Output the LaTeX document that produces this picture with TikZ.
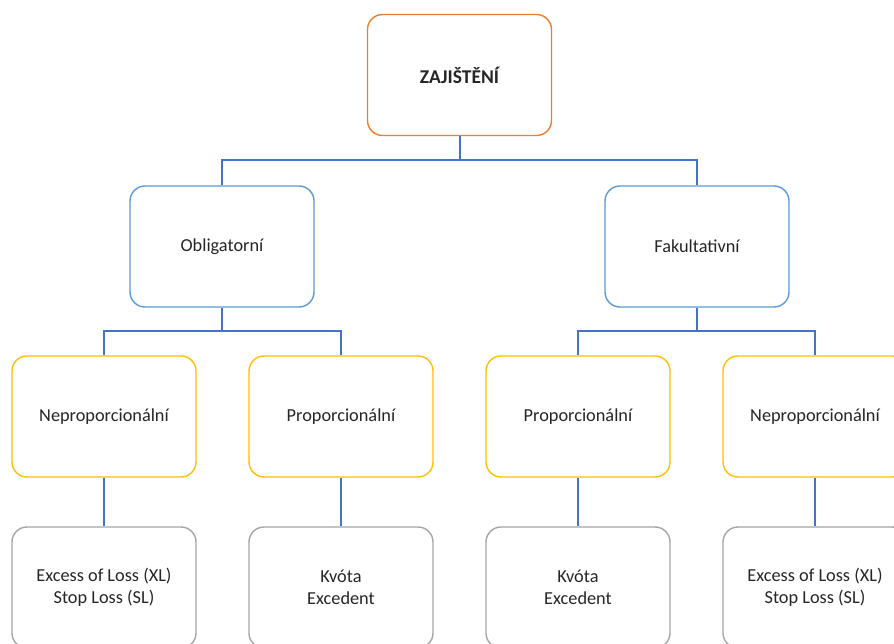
\documentclass[tikz,border=0pt]{standalone}
\usepackage{fontspec}
\setmainfont{Carlito}
\definecolor{cOrange}{HTML}{ED7D31}
\definecolor{cBlue}{HTML}{5B9BD5}
\definecolor{cGold}{HTML}{FFC000}
\definecolor{cGray}{HTML}{A5A5A5}
\definecolor{cLink}{HTML}{4472C4}
\begin{document}
\begin{tikzpicture}[x=1pt,y=-1pt,
  box/.style={draw,line width=1.4pt,rounded corners=15pt,minimum width=184pt,minimum height=121pt,
    inner sep=0pt,align=center,font=\fontsize{18.3}{22}\selectfont,text=black!85,fill=white},
  topbox/.style={box,draw=cOrange,font=\fontsize{19.5}{23}\selectfont\bfseries},
  midbox/.style={box,draw=cBlue},
  lowbox/.style={box,draw=cGold},
  leafbox/.style={box,draw=cGray},
  link/.style={draw=cLink,line width=1.4pt}]
\useasboundingbox (0,0) rectangle (894,644);
\clip (0,0) rectangle (894,644);
\fill[white] (0,0) rectangle (894,644);

% tree nodes
\node[topbox] (root) at (459.5,75) {ZAJIŠTĚNÍ};
\node[midbox] (obl) at (222,246.5) {Obligatorní};
\node[midbox] (fak) at (697,246.5) {Fakultativní};
\node[lowbox] (n1) at (104,416.5) {Neproporcionální};
\node[lowbox] (p1) at (341,416.5) {Proporcionální};
\node[lowbox] (p2) at (578,416.5) {Proporcionální};
\node[lowbox] (n2) at (815,416.5) {Neproporcionální};
\node[leafbox] (l1) at (104,587.5) {Excess of Loss (XL)\\Stop Loss (SL)};
\node[leafbox] (l2) at (341,587.5) {Kvóta\\Excedent};
\node[leafbox] (l3) at (578,587.5) {Kvóta\\Excedent};
\node[leafbox] (l4) at (815,587.5) {Excess of Loss (XL)\\Stop Loss (SL)};

% elbow connectors
\coordinate (j0) at (459.5,160);
\coordinate (j1) at (222,331);
\coordinate (j2) at (697,331);
\draw[link,line width=2pt] (root.south) -- (j0);
\draw[link] (obl.north) |- (j0) -| (fak.north);
\draw[link] (obl.south) -- (j1);
\draw[link] (n1.north) |- (j1) -| (p1.north);
\draw[link] (fak.south) -- (j2);
\draw[link] (p2.north) |- (j2) -| (n2.north);
\draw[link] (n1.south) -- (l1.north);
\draw[link] (p1.south) -- (l2.north);
\draw[link] (p2.south) -- (l3.north);
\draw[link] (n2.south) -- (l4.north);
\end{tikzpicture}
\end{document}
